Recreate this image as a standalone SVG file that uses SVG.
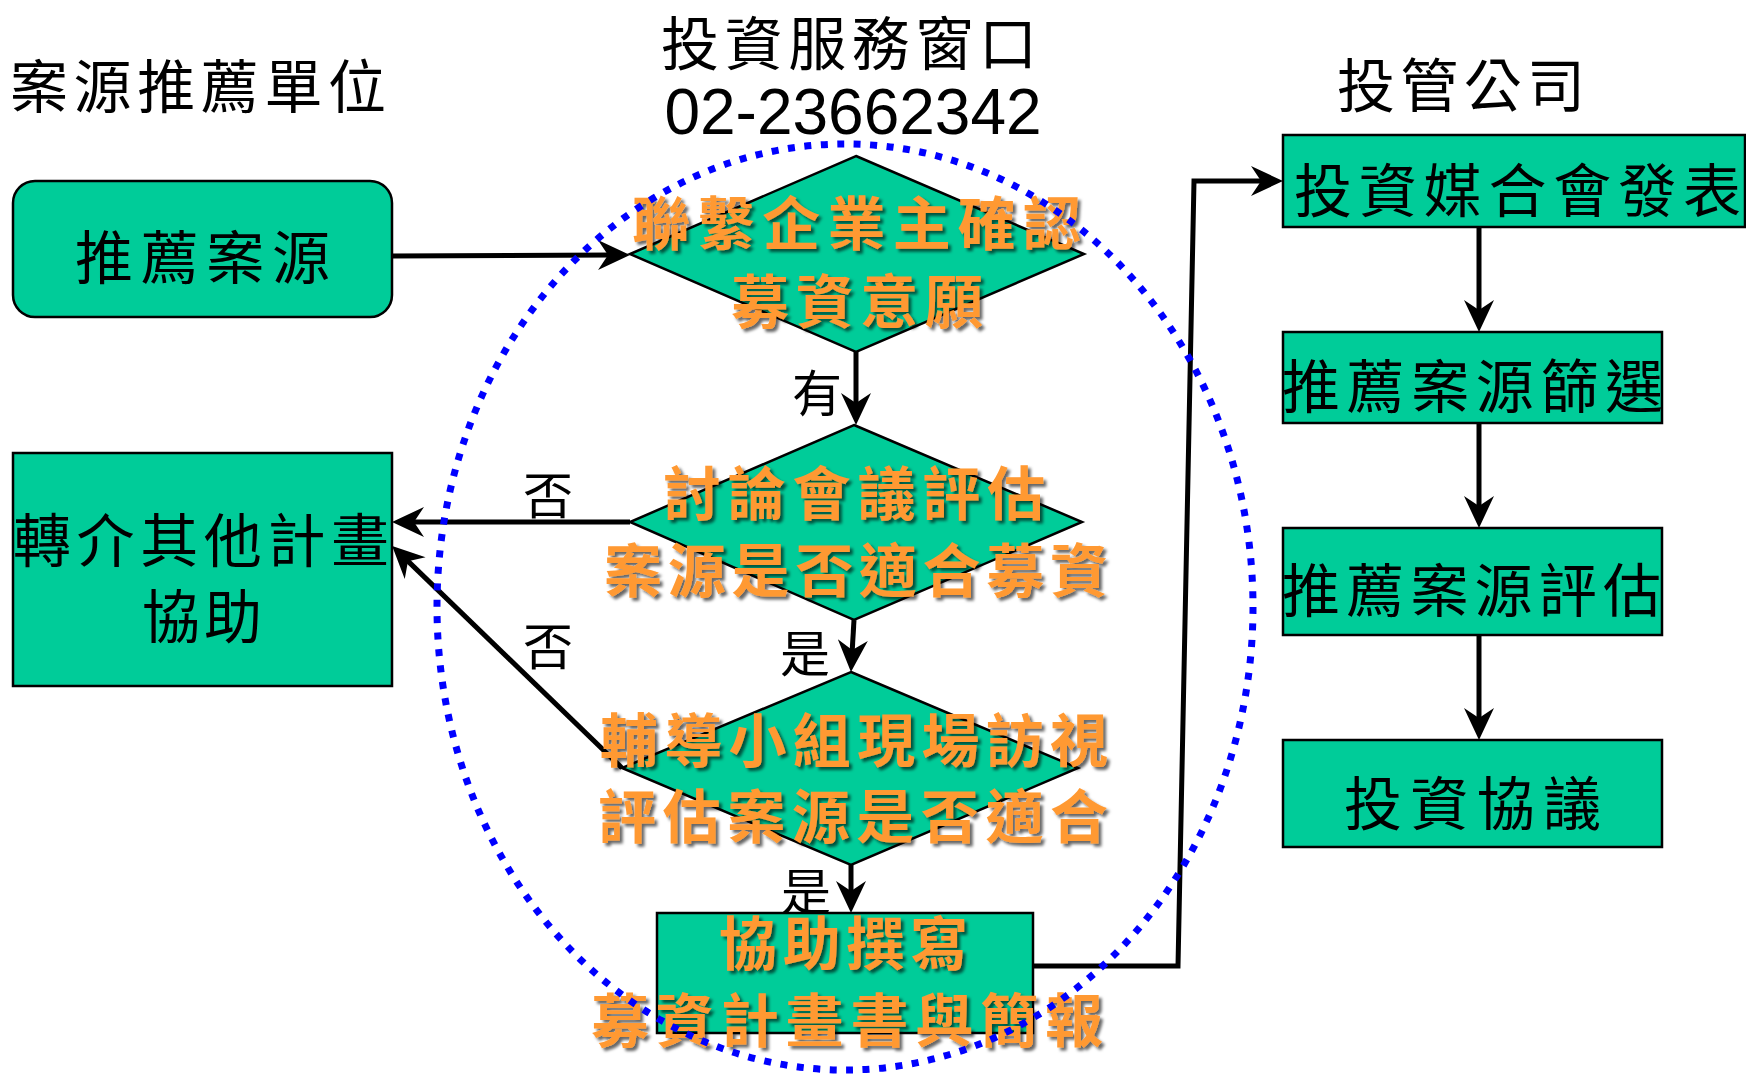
<svg xmlns="http://www.w3.org/2000/svg" width="1746" height="1074" viewBox="0 0 1746 1074">
<defs>
<style>
.box{fill:#00CC99;stroke:#000;stroke-width:2.5}
.t{font-family:"Noto Sans CJK TC","Noto Sans CJK SC",sans-serif;font-size:58px;fill:#000;dominant-baseline:central}
.o{font-family:"Noto Sans CJK TC","Noto Sans CJK SC",sans-serif;font-size:58px;font-weight:700;fill:#FF9933;dominant-baseline:central;filter:url(#sh)}
.lbl{font-family:"Noto Sans CJK TC","Noto Sans CJK SC",sans-serif;font-size:50px;fill:#000;dominant-baseline:central;text-anchor:middle}
.c{fill:none;stroke:#000;stroke-width:5;marker-end:url(#ah);stroke-linejoin:miter}
.ring{fill:none;stroke:#0000FF;stroke-width:7;stroke-dasharray:7 9.5}
</style>
<filter id="sh" x="-10%" y="-30%" width="130%" height="170%">
<feDropShadow dx="3" dy="3" stdDeviation="1.5" flood-color="#000" flood-opacity="0.6"/>
</filter>
<marker id="ah" markerUnits="userSpaceOnUse" viewBox="-20 -16 40 32" refX="0" refY="0" markerWidth="40" markerHeight="32" orient="auto">
<path d="M18,0 L-14,-15 L-4,0 L-14,15 Z" fill="#000"/>
</marker>
</defs>
<rect width="1746" height="1074" fill="#fff"/>

<g id="headers">
<text class="t" x="10" y="83" textLength="376" lengthAdjust="spacing">案源推薦單位</text>
<text class="t" x="661" y="40" textLength="376" lengthAdjust="spacing">投資服務窗口</text>
<text x="853" y="134" font-family="'Liberation Sans',Arial,sans-serif" font-size="64" text-anchor="middle" fill="#000">02-23662342</text>
<text class="t" x="1337" y="82" textLength="248" lengthAdjust="spacing">投管公司</text>
</g>

<g id="connectors">
<line class="c" x1="392" y1="256" x2="612" y2="255"/>
<line class="c" x1="856" y1="352" x2="856" y2="407"/>
<line class="c" x1="630" y1="522" x2="410" y2="522"/>
<line class="c" x1="854" y1="620" x2="852" y2="654"/>
<line class="c" x1="622" y1="768" x2="405.1" y2="558.4"/>
<line class="c" x1="851" y1="865" x2="851" y2="895"/>
<polyline class="c" points="1033,966 1178,966 1194,181 1265,181"/>
<line class="c" x1="1479" y1="227" x2="1479" y2="314"/>
<line class="c" x1="1479" y1="423" x2="1479" y2="510"/>
<line class="c" x1="1479" y1="635" x2="1479" y2="722"/>
</g>

<g id="labels">
<text class="lbl" x="817" y="390">有</text>
<text class="lbl" x="548" y="492">否</text>
<text class="lbl" x="548" y="643">否</text>
<text class="lbl" x="805" y="650">是</text>
<text class="lbl" x="806" y="888">是</text>
</g>

<g id="n-recommend">
<rect class="box" x="13" y="181" width="379" height="136" rx="22"/>
<text class="t" x="75" y="254" textLength="255" lengthAdjust="spacing">推薦案源</text>
</g>

<g id="n-refer">
<rect class="box" x="13" y="453" width="379" height="233"/>
<text class="t" x="13" y="537" textLength="376" lengthAdjust="spacing">轉介其他計畫</text>
<text class="t" x="142" y="613" textLength="120" lengthAdjust="spacing">協助</text>
</g>

<g id="n-contact">
<polygon class="box" points="856,156 1084,254 856,352 630,254"/>
<text class="o" x="632" y="220" textLength="449" lengthAdjust="spacing">聯繫企業主確認</text>
<text class="o" x="731" y="298" textLength="252" lengthAdjust="spacing">募資意願</text>
</g>

<g id="n-meeting">
<polygon class="box" points="854,425 1082,522 854,620 630,522"/>
<text class="o" x="663" y="490" textLength="382" lengthAdjust="spacing">討論會議評估</text>
<text class="o" x="604" y="567" textLength="504" lengthAdjust="spacing">案源是否適合募資</text>
</g>

<g id="n-visit">
<polygon class="box" points="851,672 1078,768 851,865 622,768"/>
<text class="o" x="600" y="737" textLength="508" lengthAdjust="spacing">輔導小組現場訪視</text>
<text class="o" x="598" y="813" textLength="510" lengthAdjust="spacing">評估案源是否適合</text>
</g>

<g id="n-write">
<rect class="box" x="657" y="913" width="376" height="120"/>
<text class="o" x="719" y="940" textLength="249" lengthAdjust="spacing">協助撰寫</text>
<text class="o" x="591" y="1017" textLength="512" lengthAdjust="spacing">募資計畫書與簡報</text>
</g>

<g id="n-match">
<rect class="box" x="1283" y="135" width="462" height="92"/>
<text class="t" x="1294" y="187" textLength="447" lengthAdjust="spacing">投資媒合會發表</text>
</g>

<g id="n-screen">
<rect class="box" x="1283" y="332" width="379" height="91"/>
<text class="t" x="1282" y="383" textLength="381" lengthAdjust="spacing">推薦案源篩選</text>
</g>

<g id="n-evaluate">
<rect class="box" x="1283" y="528" width="379" height="107"/>
<text class="t" x="1282" y="587" textLength="379" lengthAdjust="spacing">推薦案源評估</text>
</g>

<g id="n-agreement">
<rect class="box" x="1283" y="740" width="379" height="107"/>
<text class="t" x="1344" y="800" textLength="257" lengthAdjust="spacing">投資協議</text>
</g>

<g id="service-window">
<ellipse class="ring" cx="845" cy="607" rx="408" ry="463"/>
</g>
</svg>
